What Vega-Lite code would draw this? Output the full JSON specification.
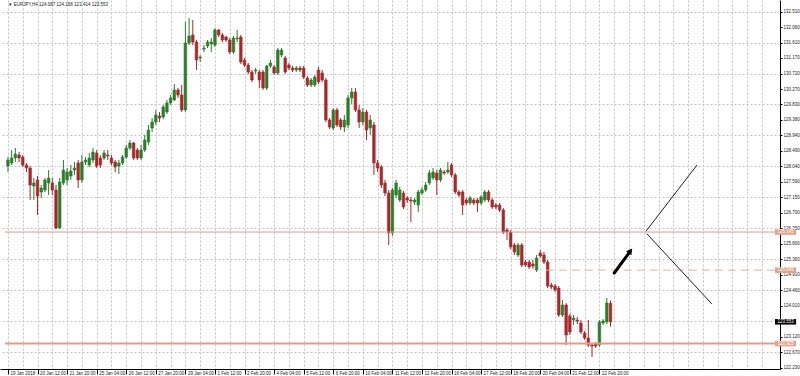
{
  "$schema": "https://vega.github.io/schema/vega-lite/v6.json",
  "width": 780,
  "height": 369,
  "autosize": "none",
  "padding": {"left": 0, "top": 0, "right": 20, "bottom": 7},
  "background": "#ffffff",
  "config": {"view": {"stroke": null}, "font": "Liberation Sans", "axis": {"title": null, "labelOverlap": false}},
  "datasets": {
    "candles": [
      {"i":0,"o":128.052,"h":128.311,"l":127.878,"c":128.225},
      {"i":1,"o":128.138,"h":128.513,"l":128.080,"c":128.283},
      {"i":2,"o":128.283,"h":128.571,"l":128.167,"c":128.398},
      {"i":3,"o":128.369,"h":128.456,"l":128.167,"c":128.283},
      {"i":4,"o":128.311,"h":128.369,"l":128.023,"c":128.080},
      {"i":5,"o":128.080,"h":128.138,"l":127.878,"c":127.994},
      {"i":6,"o":127.994,"h":128.052,"l":127.070,"c":127.503},
      {"i":7,"o":127.474,"h":127.705,"l":127.070,"c":127.561},
      {"i":8,"o":127.647,"h":127.763,"l":126.637,"c":127.185},
      {"i":9,"o":127.301,"h":127.503,"l":127.128,"c":127.416},
      {"i":10,"o":127.359,"h":127.705,"l":127.301,"c":127.647},
      {"i":11,"o":127.561,"h":127.936,"l":127.214,"c":127.705},
      {"i":12,"o":127.561,"h":127.705,"l":127.214,"c":127.359},
      {"i":13,"o":127.359,"h":127.503,"l":126.233,"c":126.262},
      {"i":14,"o":126.262,"h":127.705,"l":126.233,"c":127.590},
      {"i":15,"o":127.561,"h":128.225,"l":127.503,"c":127.936},
      {"i":16,"o":127.647,"h":127.994,"l":127.503,"c":127.878},
      {"i":17,"o":127.763,"h":128.080,"l":127.647,"c":127.907},
      {"i":18,"o":127.936,"h":128.167,"l":127.792,"c":127.994},
      {"i":19,"o":128.138,"h":128.225,"l":127.416,"c":127.647},
      {"i":20,"o":127.647,"h":128.369,"l":127.561,"c":128.167},
      {"i":21,"o":128.167,"h":128.311,"l":128.080,"c":128.225},
      {"i":22,"o":128.080,"h":128.427,"l":128.023,"c":128.283},
      {"i":23,"o":128.225,"h":128.571,"l":128.138,"c":128.456},
      {"i":24,"o":128.427,"h":128.513,"l":127.994,"c":128.052},
      {"i":25,"o":128.283,"h":128.369,"l":127.994,"c":128.080},
      {"i":26,"o":128.283,"h":128.513,"l":128.225,"c":128.427},
      {"i":27,"o":128.369,"h":128.513,"l":128.225,"c":128.340},
      {"i":28,"o":128.283,"h":128.369,"l":128.080,"c":128.138},
      {"i":29,"o":128.167,"h":128.225,"l":127.878,"c":128.023},
      {"i":30,"o":128.052,"h":128.225,"l":127.821,"c":128.138},
      {"i":31,"o":128.138,"h":128.369,"l":128.080,"c":128.311},
      {"i":32,"o":128.311,"h":128.658,"l":128.254,"c":128.571},
      {"i":33,"o":128.571,"h":128.802,"l":128.513,"c":128.716},
      {"i":34,"o":128.716,"h":128.744,"l":128.225,"c":128.283},
      {"i":35,"o":128.513,"h":128.571,"l":128.225,"c":128.283},
      {"i":36,"o":128.283,"h":128.658,"l":128.225,"c":128.513},
      {"i":37,"o":128.513,"h":128.947,"l":128.456,"c":128.802},
      {"i":38,"o":128.744,"h":129.235,"l":128.658,"c":129.091},
      {"i":39,"o":129.149,"h":129.437,"l":129.033,"c":129.322},
      {"i":40,"o":129.322,"h":129.668,"l":129.235,"c":129.524},
      {"i":41,"o":129.495,"h":129.611,"l":129.322,"c":129.437},
      {"i":42,"o":129.466,"h":129.813,"l":129.408,"c":129.755},
      {"i":43,"o":129.611,"h":129.957,"l":129.553,"c":129.870},
      {"i":44,"o":129.870,"h":130.101,"l":129.813,"c":130.015},
      {"i":45,"o":129.957,"h":130.419,"l":129.928,"c":130.246},
      {"i":46,"o":130.246,"h":130.303,"l":130.015,"c":130.101},
      {"i":47,"o":130.101,"h":130.390,"l":129.611,"c":129.668},
      {"i":48,"o":129.668,"h":132.209,"l":129.611,"c":131.603},
      {"i":49,"o":131.603,"h":132.324,"l":131.545,"c":131.805},
      {"i":50,"o":131.834,"h":132.267,"l":131.545,"c":131.631},
      {"i":51,"o":131.631,"h":131.689,"l":130.823,"c":131.112},
      {"i":52,"o":131.170,"h":131.256,"l":131.054,"c":131.198},
      {"i":53,"o":131.429,"h":131.545,"l":131.343,"c":131.458},
      {"i":54,"o":131.516,"h":131.689,"l":131.458,"c":131.631},
      {"i":55,"o":131.574,"h":131.747,"l":131.343,"c":131.631},
      {"i":56,"o":131.545,"h":132.036,"l":131.487,"c":131.978},
      {"i":57,"o":131.978,"h":132.007,"l":131.776,"c":131.834},
      {"i":58,"o":131.834,"h":131.891,"l":131.631,"c":131.689},
      {"i":59,"o":131.776,"h":131.805,"l":131.631,"c":131.689},
      {"i":60,"o":131.689,"h":131.747,"l":131.285,"c":131.343},
      {"i":61,"o":131.343,"h":131.805,"l":131.285,"c":131.747},
      {"i":62,"o":131.718,"h":131.978,"l":131.631,"c":131.747},
      {"i":63,"o":131.776,"h":131.834,"l":130.996,"c":131.054},
      {"i":64,"o":131.112,"h":131.170,"l":130.910,"c":130.967},
      {"i":65,"o":130.967,"h":131.025,"l":130.708,"c":130.765},
      {"i":66,"o":130.765,"h":130.823,"l":130.477,"c":130.534},
      {"i":67,"o":130.794,"h":130.881,"l":130.708,"c":130.823},
      {"i":68,"o":130.765,"h":130.823,"l":130.303,"c":130.534},
      {"i":69,"o":130.765,"h":130.823,"l":130.246,"c":130.303},
      {"i":70,"o":130.303,"h":130.967,"l":130.246,"c":130.939},
      {"i":71,"o":130.939,"h":131.112,"l":130.881,"c":131.025},
      {"i":72,"o":130.910,"h":130.967,"l":130.679,"c":130.736},
      {"i":73,"o":130.736,"h":131.458,"l":130.679,"c":131.400},
      {"i":74,"o":131.256,"h":131.458,"l":131.198,"c":131.400},
      {"i":75,"o":131.170,"h":131.227,"l":130.708,"c":130.765},
      {"i":76,"o":130.967,"h":131.025,"l":130.823,"c":130.881},
      {"i":77,"o":130.881,"h":130.939,"l":130.765,"c":130.823},
      {"i":78,"o":130.823,"h":130.939,"l":130.765,"c":130.881},
      {"i":79,"o":130.881,"h":130.939,"l":130.765,"c":130.823},
      {"i":80,"o":130.881,"h":130.939,"l":130.563,"c":130.621},
      {"i":81,"o":130.592,"h":130.650,"l":130.332,"c":130.390},
      {"i":82,"o":130.390,"h":130.592,"l":130.332,"c":130.534},
      {"i":83,"o":130.390,"h":130.679,"l":130.332,"c":130.621},
      {"i":84,"o":130.823,"h":130.910,"l":130.419,"c":130.477},
      {"i":85,"o":130.736,"h":130.823,"l":130.477,"c":130.534},
      {"i":86,"o":130.534,"h":130.592,"l":129.322,"c":129.380},
      {"i":87,"o":129.380,"h":129.437,"l":129.120,"c":129.178},
      {"i":88,"o":129.149,"h":129.726,"l":129.091,"c":129.668},
      {"i":89,"o":129.668,"h":129.726,"l":129.178,"c":129.235},
      {"i":90,"o":129.380,"h":129.437,"l":129.091,"c":129.178},
      {"i":91,"o":129.178,"h":129.524,"l":129.033,"c":129.380},
      {"i":92,"o":129.235,"h":130.101,"l":129.149,"c":130.015},
      {"i":93,"o":130.015,"h":130.303,"l":129.842,"c":130.188},
      {"i":94,"o":130.188,"h":130.303,"l":129.611,"c":129.668},
      {"i":95,"o":129.668,"h":129.813,"l":129.149,"c":129.322},
      {"i":96,"o":129.322,"h":129.726,"l":129.235,"c":129.611},
      {"i":97,"o":129.611,"h":129.668,"l":128.802,"c":129.091},
      {"i":98,"o":129.149,"h":129.524,"l":128.947,"c":129.380},
      {"i":99,"o":129.235,"h":129.322,"l":127.792,"c":128.138},
      {"i":100,"o":128.138,"h":128.225,"l":127.878,"c":127.994},
      {"i":101,"o":128.023,"h":128.080,"l":127.416,"c":127.503},
      {"i":102,"o":127.561,"h":127.647,"l":127.185,"c":127.272},
      {"i":103,"o":127.272,"h":127.359,"l":125.771,"c":126.117},
      {"i":104,"o":126.117,"h":127.416,"l":126.031,"c":127.359},
      {"i":105,"o":127.214,"h":127.647,"l":127.128,"c":127.561},
      {"i":106,"o":127.070,"h":127.445,"l":127.012,"c":127.359},
      {"i":107,"o":127.272,"h":127.330,"l":126.810,"c":126.868},
      {"i":108,"o":127.128,"h":127.185,"l":126.983,"c":127.070},
      {"i":109,"o":127.070,"h":127.157,"l":126.435,"c":127.041},
      {"i":110,"o":127.012,"h":127.128,"l":126.926,"c":127.070},
      {"i":111,"o":126.926,"h":127.359,"l":126.724,"c":127.301},
      {"i":112,"o":127.272,"h":127.445,"l":127.214,"c":127.359},
      {"i":113,"o":127.359,"h":127.590,"l":127.301,"c":127.503},
      {"i":114,"o":127.561,"h":127.936,"l":127.503,"c":127.849},
      {"i":115,"o":127.705,"h":127.994,"l":127.647,"c":127.878},
      {"i":116,"o":127.849,"h":127.936,"l":127.214,"c":127.647},
      {"i":117,"o":127.647,"h":127.994,"l":127.590,"c":127.936},
      {"i":118,"o":127.878,"h":127.936,"l":127.792,"c":127.849},
      {"i":119,"o":127.878,"h":128.167,"l":127.821,"c":127.936},
      {"i":120,"o":128.080,"h":128.138,"l":127.734,"c":127.792},
      {"i":121,"o":127.792,"h":127.849,"l":127.243,"c":127.301},
      {"i":122,"o":127.301,"h":127.359,"l":127.157,"c":127.214},
      {"i":123,"o":127.301,"h":127.359,"l":126.637,"c":126.926},
      {"i":124,"o":127.070,"h":127.128,"l":126.926,"c":126.983},
      {"i":125,"o":126.983,"h":127.185,"l":126.926,"c":127.128},
      {"i":126,"o":127.070,"h":127.128,"l":126.926,"c":126.983},
      {"i":127,"o":127.070,"h":127.128,"l":126.724,"c":126.983},
      {"i":128,"o":126.983,"h":127.214,"l":126.926,"c":127.157},
      {"i":129,"o":127.070,"h":127.359,"l":127.012,"c":127.301},
      {"i":130,"o":127.301,"h":127.359,"l":127.012,"c":127.070},
      {"i":131,"o":127.070,"h":127.128,"l":126.810,"c":126.868},
      {"i":132,"o":126.926,"h":126.983,"l":126.810,"c":126.868},
      {"i":133,"o":126.926,"h":126.983,"l":126.724,"c":126.781},
      {"i":134,"o":126.781,"h":126.839,"l":126.088,"c":126.146},
      {"i":135,"o":126.204,"h":126.262,"l":125.915,"c":126.146},
      {"i":136,"o":126.146,"h":126.204,"l":125.655,"c":125.713},
      {"i":137,"o":125.771,"h":125.829,"l":125.482,"c":125.569},
      {"i":138,"o":125.482,"h":125.829,"l":125.424,"c":125.771},
      {"i":139,"o":125.771,"h":125.829,"l":125.136,"c":125.193},
      {"i":140,"o":125.280,"h":125.338,"l":125.136,"c":125.193},
      {"i":141,"o":125.280,"h":125.338,"l":125.078,"c":125.136},
      {"i":142,"o":125.222,"h":125.338,"l":125.078,"c":125.165},
      {"i":143,"o":125.049,"h":125.482,"l":124.991,"c":125.396},
      {"i":144,"o":125.540,"h":125.626,"l":125.396,"c":125.453},
      {"i":145,"o":125.482,"h":125.569,"l":125.222,"c":125.280},
      {"i":146,"o":125.280,"h":125.338,"l":124.529,"c":124.587},
      {"i":147,"o":124.616,"h":124.674,"l":124.501,"c":124.558},
      {"i":148,"o":124.587,"h":124.645,"l":124.414,"c":124.472},
      {"i":149,"o":124.529,"h":124.587,"l":123.692,"c":123.750},
      {"i":150,"o":123.750,"h":124.183,"l":123.692,"c":124.039},
      {"i":151,"o":124.039,"h":124.096,"l":122.884,"c":123.173},
      {"i":152,"o":123.721,"h":123.779,"l":123.173,"c":123.259},
      {"i":153,"o":123.606,"h":123.750,"l":123.461,"c":123.663},
      {"i":154,"o":123.606,"h":123.692,"l":123.490,"c":123.577},
      {"i":155,"o":123.519,"h":123.606,"l":123.201,"c":123.259},
      {"i":156,"o":123.230,"h":123.288,"l":123.028,"c":123.086},
      {"i":157,"o":123.086,"h":123.606,"l":122.826,"c":122.884},
      {"i":158,"o":122.884,"h":122.941,"l":122.537,"c":122.855},
      {"i":159,"o":122.913,"h":122.970,"l":122.797,"c":122.855},
      {"i":160,"o":122.884,"h":123.606,"l":122.826,"c":123.548},
      {"i":161,"o":123.519,"h":123.634,"l":123.461,"c":123.577},
      {"i":162,"o":123.548,"h":124.241,"l":123.490,"c":124.096},
      {"i":163,"o":124.087,"h":124.168,"l":123.414,"c":123.553}
    ],
    "levels": [
      {"name": "upper", "price": 126.145, "start": -0.8},
      {"name": "target", "price": 125.045, "start": 145.5},
      {"name": "lower", "price": 122.925, "start": -0.8}
    ],
    "tags": [
      {"name": "upper", "price": 126.145},
      {"name": "target", "price": 125.045},
      {"name": "last", "price": 123.553},
      {"name": "lower", "price": 122.925}
    ],
    "trend": [
      {"seg": "a", "x": 186.4, "p": 128.08},
      {"seg": "a", "x": 172.6, "p": 126.17},
      {"seg": "b", "x": 172.8, "p": 126.1},
      {"seg": "b", "x": 190.4, "p": 124.07}
    ],
    "arrow": [
      {"x": 164.0, "p": 124.963},
      {"x": 168.0, "p": 125.54}
    ],
    "arrowhead": [
      {"x": 168.4, "p": 125.6}
    ],
    "caption": [
      {"t": "▼ EURJPY,H4 124.087 124.168 123.414 123.553"}
    ]
  },
  "layer": [
    {
      "data": {"name": "candles"},
      "mark": {"type": "rule", "strokeWidth": 1},
      "encoding": {
        "x": {
          "field": "i", "type": "quantitative",
          "scale": {"domain": [-0.8, 207.5], "nice": false, "zero": false},
          "axis": {
            "orient": "bottom",
            "values": [0,4,8,12,16,20,24,28,32,36,40,44,48,52,56,60,64,68,72,76,80,84,88,92,96,100,104,108,112,116,120,124,128,132,136,140,144,148,152,156,160,164,168,172,176,180,184,188,192,196,200,204],
            "tickCount": 200,
            "labelExpr": "datum.value % 8 == 0 && datum.value <= 160 ? ['19 Jan 2018','20 Jan 12:00','21 Jan 20:00','25 Jan 04:00','26 Jan 12:00','27 Jan 20:00','29 Jan 04:00','1 Feb 12:00','2 Feb 20:00','4 Feb 04:00','5 Feb 12:00','6 Feb 20:00','10 Feb 04:00','11 Feb 12:00','12 Feb 20:00','16 Feb 04:00','17 Feb 12:00','18 Feb 20:00','20 Feb 04:00','21 Feb 12:00','22 Feb 20:00'][datum.value / 8] : ''",
            "labelAlign": "left", "labelBaseline": "top", "labelFontSize": 4.5, "labelColor": "#222222",
            "labelPadding": -4, "labelOffset": 2, "labelOverlap": false, "labelBound": false, "labelFlush": false,
            "tickSize": 5, "tickColor": "#000000",
            "tickOpacity": {"condition": {"test": "datum.value % 8 == 0 && datum.value <= 160", "value": 1}, "value": 0},
            "domainColor": "#000000", "domainWidth": 1,
            "grid": true, "gridColor": "#c4c4c4", "gridDash": [2, 2], "gridWidth": 1,
            "zindex": 0
          }
        },
        "y": {
          "field": "l", "type": "quantitative",
          "scale": {"domain": [122.191, 132.844], "nice": false, "zero": false},
          "axis": {
            "orient": "right",
            "values": [132.51,132.06,131.61,131.17,130.72,130.27,129.83,129.38,128.94,128.49,128.04,127.59,127.15,126.7,126.25,125.8,125.36,124.91,124.46,124.01,123.57,123.12,122.67,122.23],
            "tickCount": 200,
            "labelExpr": "datum.value == 123.57 ? '' : format(datum.value, '.3f')",
            "labelFontSize": 4.5, "labelColor": "#222222", "labelPadding": 1, "labelAlign": "left",
            "labelOverlap": false, "labelBound": false, "labelFlush": false,
            "tickSize": 2, "tickColor": "#000000",
            "domainColor": "#000000", "domainWidth": 1,
            "grid": true, "gridColor": "#c4c4c4", "gridDash": [2, 2], "gridWidth": 1,
            "gridOpacity": {"condition": {"test": "indexof([132.51,131.61,130.72,129.83,128.94,128.04,127.15,126.25,125.36,124.46,123.57,122.67], datum.value) >= 0", "value": 1}, "value": 0},
            "zindex": 0
          }
        },
        "y2": {"field": "h"},
        "color": {"condition": {"test": "datum.c >= datum.o", "value": "#2b7d2b"}, "value": "#a8282a"}
      }
    },
    {
      "data": {"name": "candles"},
      "mark": {"type": "bar", "width": 2.6, "strokeWidth": 0.6},
      "encoding": {
        "x": {"field": "i", "type": "quantitative"},
        "y": {"field": "o", "type": "quantitative"},
        "y2": {"field": "c"},
        "fill": {"condition": {"test": "datum.c >= datum.o", "value": "#2b7d2b"}, "value": "#a8282a"},
        "stroke": {"condition": {"test": "datum.c >= datum.o", "value": "#2b7d2b"}, "value": "#a8282a"}
      }
    },
    {
      "data": {"name": "levels"},
      "transform": [{"filter": "datum.name == 'upper'"}],
      "mark": {"type": "rule", "color": "#e39b86", "strokeWidth": 1},
      "encoding": {
        "x": {"field": "start", "type": "quantitative"},
        "x2": {"datum": 207.5},
        "y": {"field": "price", "type": "quantitative"}
      }
    },
    {
      "data": {"name": "levels"},
      "transform": [{"filter": "datum.name == 'target'"}],
      "mark": {"type": "rule", "color": "#e8b09e", "strokeWidth": 1, "strokeDash": [8, 5]},
      "encoding": {
        "x": {"field": "start", "type": "quantitative"},
        "x2": {"datum": 207.5},
        "y": {"field": "price", "type": "quantitative"}
      }
    },
    {
      "data": {"name": "levels"},
      "transform": [{"filter": "datum.name == 'lower'"}],
      "mark": {"type": "rule", "color": "#e39b86", "strokeWidth": 2},
      "encoding": {
        "x": {"field": "start", "type": "quantitative"},
        "x2": {"datum": 207.5},
        "y": {"field": "price", "type": "quantitative"}
      }
    },
    {
      "data": {"name": "trend"},
      "mark": {"type": "line", "color": "#1b1b40", "strokeWidth": 1},
      "encoding": {
        "x": {"field": "x", "type": "quantitative"},
        "y": {"field": "p", "type": "quantitative"},
        "detail": {"field": "seg"}
      }
    },
    {
      "data": {"name": "arrow"},
      "mark": {"type": "line", "color": "#000000", "strokeWidth": 3, "strokeCap": "round"},
      "encoding": {
        "x": {"field": "x", "type": "quantitative"},
        "y": {"field": "p", "type": "quantitative"}
      }
    },
    {
      "data": {"name": "arrowhead"},
      "mark": {"type": "point", "shape": "triangle-up", "angle": 37, "size": 45, "filled": true, "color": "#000000", "opacity": 1},
      "encoding": {
        "x": {"field": "x", "type": "quantitative"},
        "y": {"field": "p", "type": "quantitative"}
      }
    },
    {
      "data": {"name": "tags"},
      "mark": {"type": "rule", "strokeWidth": 5.5},
      "encoding": {
        "x": {"datum": 207.5},
        "x2": {"datum": 213.2},
        "y": {"field": "price", "type": "quantitative"},
        "color": {"condition": {"test": "datum.name == 'last'", "value": "#000000"}, "value": "#e8a08a"}
      }
    },
    {
      "data": {"name": "tags"},
      "mark": {"type": "text", "align": "left", "baseline": "middle", "fontSize": 4.5, "color": "#ffffff"},
      "encoding": {
        "x": {"datum": 208.2},
        "y": {"field": "price", "type": "quantitative"},
        "text": {"field": "price", "type": "quantitative", "format": ".3f"}
      }
    },
    {
      "data": {"name": "caption"},
      "mark": {"type": "text", "align": "left", "baseline": "middle", "fontSize": 4.5, "color": "#222222"},
      "encoding": {
        "x": {"datum": 0},
        "y": {"datum": 132.7},
        "text": {"field": "t"}
      }
    }
  ]
}
